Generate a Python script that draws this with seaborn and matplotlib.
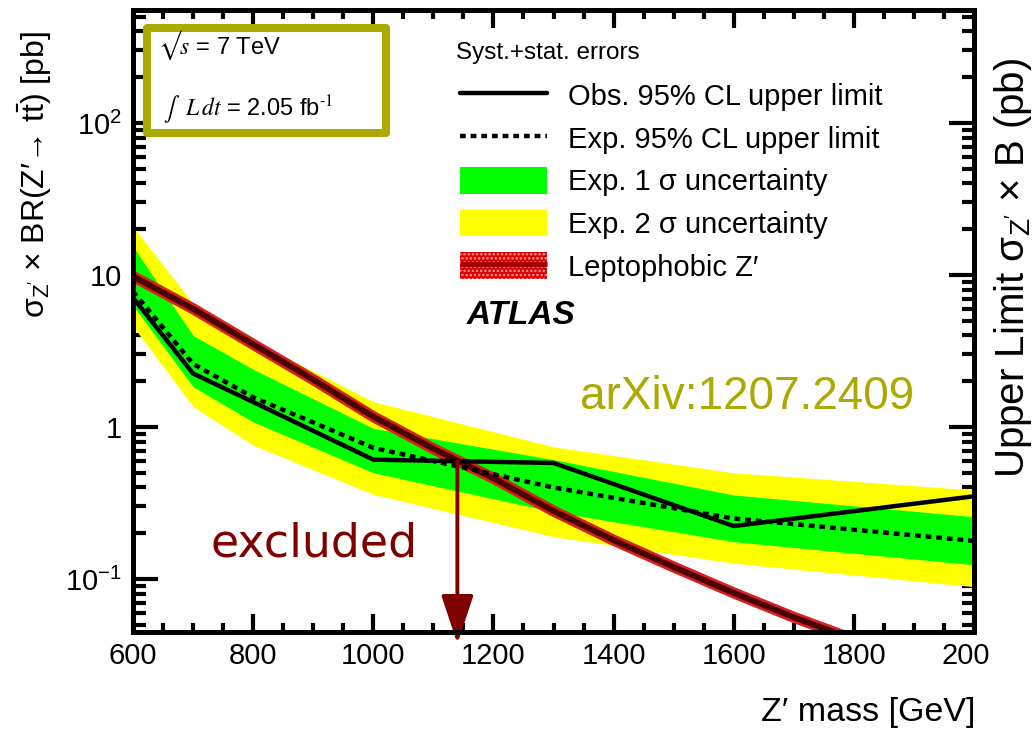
import numpy as np
import matplotlib
matplotlib.use("Agg")
import matplotlib.pyplot as plt
import seaborn as sns
from matplotlib.patches import Rectangle, Patch
from matplotlib.lines import Line2D
from matplotlib.legend_handler import HandlerTuple
from matplotlib.ticker import FixedLocator, FixedFormatter, LogLocator, NullFormatter, MultipleLocator

# Z' mass points of the limit scan [GeV] and 95% CL limits on sigma x BR [pb]
mass = [600, 700, 800, 1000, 1300, 1600, 2000]
obs_limit = [7.1, 2.25, 1.46, 0.61, 0.58, 0.223, 0.35]
exp_limit = [7.8, 2.6, 1.57, 0.73, 0.40, 0.25, 0.178]
exp_1sigma_lo = [6.3, 1.84, 1.08, 0.50, 0.277, 0.176, 0.124]
exp_1sigma_hi = [15.4, 4.0, 2.4, 0.98, 0.61, 0.357, 0.257]
exp_2sigma_lo = [4.6, 1.36, 0.76, 0.36, 0.19, 0.127, 0.089]
exp_2sigma_hi = [20.8, 6.5, 3.7, 1.47, 0.74, 0.50, 0.385]

# Leptophobic Z' prediction
zp_mass = [600, 700, 800, 900, 1000, 1100, 1200, 1300, 1400, 1500, 1600, 1700, 1800, 1900, 2000]
zp_xsec = [9.8, 6.0, 3.5, 2.05, 1.17, 0.72, 0.46, 0.28, 0.18, 0.12, 0.081, 0.056, 0.040, 0.029, 0.021]

# Mass below which the leptophobic Z' is excluded
excluded_mass = 1140

x_ticks = [600, 800, 1000, 1200, 1400, 1600, 1800, 2000]
x_tick_labels = ["600", "800", "1000", "1200", "1400", "1600", "1800", "2000"]
y_ticks = [0.1, 1, 10, 100]
y_tick_labels = ["$10^{-1}$", "1", "10", "$10^{2}$"]

sns.set_theme(style="ticks")
plt.rcParams["font.family"] = ["Liberation Sans", "DejaVu Sans"]
plt.rcParams["mathtext.fontset"] = "custom"
plt.rcParams["mathtext.rm"] = "Liberation Sans"
plt.rcParams["mathtext.it"] = "Liberation Sans:italic"
plt.rcParams["mathtext.bf"] = "Liberation Sans:bold"
plt.rcParams["hatch.linewidth"] = 1.2
for key in ["text.color", "axes.labelcolor", "xtick.color", "ytick.color",
            "xtick.labelcolor", "ytick.labelcolor"]:
    plt.rcParams[key] = "black"

W, H = 1033, 734
fig = plt.figure(figsize=(W / 100, H / 100), dpi=100)
fig.patch.set_facecolor("white")
ax = fig.add_axes([133 / W, 102 / H, 841 / W, 622 / H])
ax.set_facecolor("white")

GREEN = "#00ff00"
YELLOW = "#ffff00"
OLIVE = "#aaaa00"
DARKRED = "#800000"

# Expected-limit uncertainty bands
ax.fill_between(mass, exp_2sigma_lo, exp_2sigma_hi, color=YELLOW, lw=0, zorder=1)
ax.fill_between(mass, exp_1sigma_lo, exp_1sigma_hi, color=GREEN, lw=0, zorder=1.1)

# Leptophobic Z' curve: red halo with a dark core
sns.lineplot(x=zp_mass, y=zp_xsec, ax=ax, color="#d82020", lw=8, zorder=2,
             solid_capstyle="butt")
sns.lineplot(x=zp_mass, y=zp_xsec, ax=ax, color="#4a0000", lw=4.2, zorder=2.1,
             solid_capstyle="butt")

# Expected and observed limits
sns.lineplot(x=mass, y=exp_limit, ax=ax, color="black", lw=3.2,
             linestyle=(0, (1.3, 1.1)), zorder=3)
sns.lineplot(x=mass, y=obs_limit, ax=ax, color="black", lw=3.2, zorder=3.1)

ax.set_xscale("linear")
ax.set_yscale("log")
ax.set_xlim(600, 2000)
ax.set_ylim(0.0448, 554)

# Exclusion arrow from the observed limit down past the axis
arrow_top = 10 ** np.interp(excluded_mass, mass, np.log10(obs_limit))
ax.annotate("", xy=(excluded_mass, 0.0375), xytext=(excluded_mass, arrow_top),
            arrowprops=dict(arrowstyle="-|>,head_length=1.5,head_width=0.5",
                            mutation_scale=20, lw=2.8, color=DARKRED,
                            shrinkA=0, shrinkB=0),
            annotation_clip=False, zorder=6)
ax.text(0.215, 0.1206, "excluded", transform=ax.transAxes, color=DARKRED,
        fontsize=33, family="DejaVu Sans", ha="center", va="baseline")

# Axis ticks
ax.xaxis.set_major_locator(FixedLocator(x_ticks))
ax.xaxis.set_major_formatter(FixedFormatter(x_tick_labels))
ax.xaxis.set_minor_locator(MultipleLocator(50))
ax.yaxis.set_major_locator(FixedLocator(y_ticks))
ax.yaxis.set_major_formatter(FixedFormatter(y_tick_labels))
ax.yaxis.set_minor_locator(LogLocator(base=10, subs=np.arange(2, 10)))
ax.yaxis.set_minor_formatter(NullFormatter())

ax.tick_params(which="both", direction="in", top=True, right=True, width=3,
               color="black")
ax.tick_params(axis="x", which="major", length=13, labelsize=21, pad=7)
ax.tick_params(axis="x", which="minor", length=6.5)
ax.tick_params(axis="y", which="major", length=18, labelsize=21, pad=8)
ax.tick_params(axis="y", which="minor", length=9)
for s in ax.spines.values():
    s.set_linewidth(3.6)
    s.set_color("black")
    s.set_zorder(10)

# Energy / luminosity box
ax.add_patch(Rectangle((0.01724, 0.8023), 0.2836, 0.1688, transform=ax.transAxes,
                       facecolor="white", edgecolor=OLIVE, lw=5.8,
                       joinstyle="round", zorder=2))
ax.text(0.030, 0.944, "$√s$ = 7 TeV", transform=ax.transAxes, fontsize=17,
        ha="left", va="center", math_fontfamily="stix", zorder=2.2)
ax.text(0.036, 0.838, r"$\int\ \ L\,dt$ = 2.05 fb$^{\text{-1}}$", transform=ax.transAxes,
        fontsize=17, ha="left", va="center", math_fontfamily="stix", zorder=2.2)

# Legend
h_obs = Line2D([], [], color="black", lw=3.2)
h_exp = Line2D([], [], color="black", lw=3.2, linestyle=(0, (1.3, 1.1)))
h_1s = Patch(facecolor=GREEN, lw=0)
h_2s = Patch(facecolor=YELLOW, lw=0)
h_zp = (Patch(facecolor="#dd0000", edgecolor="#ff9a9a", hatch="....", lw=0),
        Line2D([], [], color="#a00000", lw=3.5, solid_capstyle="butt"))
labels = ["Obs. 95% CL upper limit", "Exp. 95% CL upper limit",
          "Exp. 1 σ uncertainty", "Exp. 2 σ uncertainty",
          "Leptophobic Z′"]
leg = ax.legend([h_obs, h_exp, h_1s, h_2s, h_zp], labels, loc="upper left",
                bbox_to_anchor=(0.3888, 0.885), frameon=False, fontsize=21,
                handlelength=3.0, handleheight=1.03, handletextpad=0.72,
                labelspacing=0.46, borderpad=0, borderaxespad=0,
                handler_map={tuple: HandlerTuple(ndivide=1)})
ax.text((456 - 133) / 841, 1 - 43 / 622, "Syst.+stat. errors", transform=ax.transAxes,
        fontsize=17.5, ha="left", va="center")

ax.text(0.397, 0.5096, "ATLAS", transform=ax.transAxes, fontsize=24,
        fontweight="bold", fontstyle="italic", ha="left", va="center")
ax.text(0.730, 0.378, "arXiv:1207.2409", transform=ax.transAxes, fontsize=33,
        color=OLIVE, ha="center", va="center")

# Axis titles
fig.text(975 / W, 1 - 712 / H, "Z′ mass [GeV]", fontsize=24.5,
         ha="right", va="center")
fig.text(35 / W, 1 - 175 / H,
         r"$\mathrm{σ}_{\mathrm{Z'}}$ × BR(Z′→ t$\bar{\mathrm{t}}$) [pb]",
         fontsize=23, rotation=90, ha="center", va="center")

# Right-hand title on a white strip
fig.patches.append(Rectangle((989 / W, 0), 1 - 989 / W, 1, transform=fig.transFigure,
                             facecolor="white", edgecolor="none", zorder=5))
fig.text(1013 / W, 1 - 268 / H, r"Upper Limit $\mathrm{σ}_{\mathrm{Z'}}$ × B (pb)",
         fontsize=29, rotation=90, ha="center", va="center", zorder=6)

fig.savefig("out.png", dpi=100, facecolor="white")
